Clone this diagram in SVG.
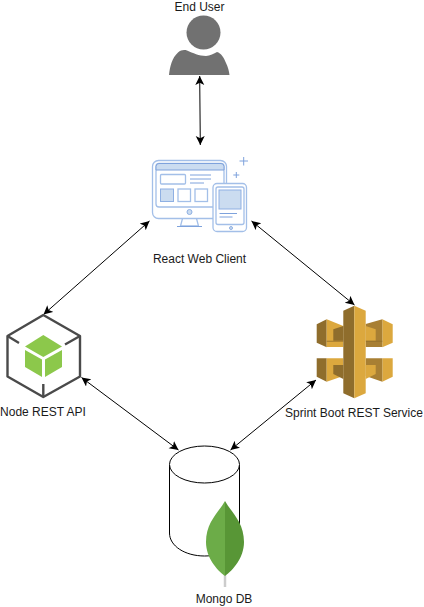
<svg xmlns="http://www.w3.org/2000/svg" width="424" height="607" viewBox="0 0 424 607">
<style>
text{font-family:"Liberation Sans",Arial,sans-serif;font-size:12px;fill:#1a1a1a;text-anchor:middle}
.c{fill:none;stroke:#000;stroke-width:1;marker-start:url(#a);marker-end:url(#a)}
.b{fill:none;stroke:#a3bfe8;stroke-width:1.3}
.d{fill:none;stroke:#7ea2dc;stroke-width:1}
.f{fill:#cbdcf0;stroke:#8fb0e3;stroke-width:1}
.n{fill:none;stroke:#4a4a4a;stroke-width:2.4;stroke-linejoin:round}
.g{fill:#8cc84b}
.l{fill:#dca83e}
.m{fill:#a87f33}
.k{fill:#8f6d2c}
</style>
<defs>
<marker id="a" markerUnits="userSpaceOnUse" markerWidth="10" markerHeight="10" refX="9" refY="4.500" orient="auto-start-reverse"><path d="M0 0L9 4.500L0 9L2.200 4.500Z" fill="#000"/></marker>
</defs>
<rect width="424" height="607" fill="#fff"/>
<g id="connectors">
<path class="c" d="M199.700 76L200.300 145"/>
<path class="c" d="M149.500 221L43.500 314.500"/>
<path class="c" d="M251.500 221L354.500 305"/>
<path class="c" d="M81.500 377.500L178.500 450"/>
<path class="c" d="M316 380L230.500 450"/>
</g>
<g id="end-user">
<text x="199.500" y="11">End User</text>
<circle cx="203.500" cy="32.500" r="17" fill="#717171"/>
<path d="M169 75C170 66 172 58 178 52.500C181 50 184 49.500 187 50.500C193 53 199 56 206 56C210 56 214 53.500 217 52C221 53 224 58 226 63C228 67 229 71 229.500 75Z" fill="#717171"/>
</g>
<g id="react-web-client">
<rect class="b" x="152.500" y="160.500" width="74" height="58" rx="6"/>
<rect class="b" x="156" y="163.500" width="68" height="43.500" rx="3"/>
<path d="M156 170V166.500Q156 163.500 159 163.500H221Q224 163.500 224 166.500V170Z" fill="#cbdcf0" stroke="#7ea2dc"/>
<rect class="b" x="160.500" y="174.500" width="25" height="9.500" rx="1"/>
<path class="d" d="M190 175H211M190 179H211M190 183H204"/>
<rect class="f" x="160.500" y="189" width="13" height="12.500"/>
<rect class="b" x="178" y="189" width="12.500" height="12.500"/>
<rect class="b" x="195" y="189" width="12.500" height="12.500"/>
<circle class="f" cx="189.500" cy="212" r="2.500"/>
<path class="b" d="M182.500 218.500L180.500 226H198.500L196.500 218.500"/>
<path class="d" d="M177 226.500H202"/>
<rect x="213" y="183.500" width="33.500" height="48" rx="4" fill="#fff" stroke="#a3bfe8" stroke-width="1.300"/>
<rect class="b" x="216" y="187" width="28" height="37.500" rx="2"/>
<rect class="f" x="219" y="190" width="22" height="19"/>
<path class="d" d="M219.500 213.500H237M219.500 217H232.500"/>
<circle class="f" cx="231" cy="228" r="1.500"/>
<path class="d" d="M243.700 157V165.500M239.500 161H248M236.300 172V178M233.300 175H239.300"/>
<text x="199.500" y="263">React Web Client</text>
</g>
<g id="node-rest-api">
<path class="n" d="M43.300 315L80 336V376.500L43.300 397L7.500 376.500V336Z"/>
<path class="n" d="M7.500 336L19 343M80 336L65 344.500M43.300 397V384"/>
<path class="g" d="M43.300 335L62 346.500L43.300 357L25 346.500Z"/>
<path class="g" d="M25 350L42 359.500V377L25 367Z"/>
<path class="g" d="M45 359.500L62 350V367L45 377Z"/>
<text x="43" y="416">Node REST API</text>
</g>
<g id="spring-boot-rest-service">
<path class="k" d="M316.700 324.300L326.700 319.300V347.300L316.700 342.700Z"/>
<path class="l" d="M326.700 319.300L343.300 326V347H326.700Z"/>
<path class="k" d="M333.300 329.300L343.300 326V340.700H333.300Z"/>
<path class="k" d="M326.700 340.700H343.300V342H326.700Z" opacity=".6"/>
<path class="l" d="M392.700 324.300L382.300 319.300V347.300L392.700 342.700Z"/>
<path class="m" d="M382.300 319.300L365.700 324V347H382.300Z"/>
<path class="l" d="M375.700 329.300L365.700 326V340.700H375.700Z"/>
<path class="k" d="M365.700 340.700H382.300V342H365.700Z" opacity=".6"/>
<path class="k" d="M316.700 358.300H326.700V381.700L316.700 376.700Z"/>
<path class="l" d="M326.700 358.300H343.300V376L326.700 381.700Z"/>
<path class="k" d="M333.300 365H343.300V379L333.300 374Z"/>
<path class="l" d="M392.700 358.300H382.300V381.700L392.700 376.700Z"/>
<path class="m" d="M382.300 358.300H365.700V376L382.300 381.700Z"/>
<path class="l" d="M375.700 365H365.700V379L375.700 374Z"/>
<path class="k" d="M354.300 305.700L343.300 310.700V393.300L354.300 398.300Z"/>
<path class="l" d="M354.300 305.700L365.700 310.700V393.300L354.300 398.300Z"/>
<text x="354" y="417">Sprint Boot REST Service</text>
</g>
<g id="mongo-db">
<path d="M169.500 465V533C169.500 546 185 556 204.500 556S239.500 546 239.500 533V465" fill="#fff" stroke="#000"/>
<ellipse cx="204.500" cy="464.500" rx="35" ry="18.500" fill="#fff" stroke="#000"/>
<path d="M225 587V570" stroke="#ccc" stroke-width="2.500"/>
<path d="M225 501C219 512 206 522 206 542C206 558 217 570 225 576Z" fill="#6cac48"/>
<path d="M225 501C231 512 244 522 244 542C244 558 233 570 225 576Z" fill="#589636"/>
<text x="224" y="603">Mongo DB</text>
</g>
</svg>
